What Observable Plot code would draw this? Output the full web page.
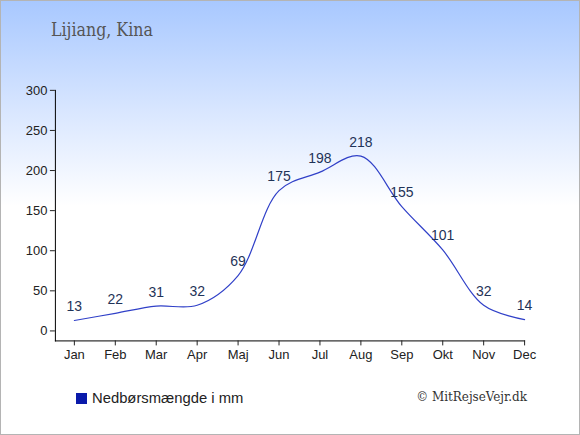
<!DOCTYPE html>
<html><head><meta charset="utf-8">
<script src="https://cdn.jsdelivr.net/npm/d3@7"></script>
<script src="https://cdn.jsdelivr.net/npm/@observablehq/plot@0.6"></script>
<style>
html,body{margin:0;padding:0;}
#wrap{position:relative;width:578px;height:433px;border:1px solid #b4b4b4;
background:linear-gradient(to bottom,#a8c8ff 0px,#dde9ff 120px,#ffffff 205px,#ffffff 433px);overflow:hidden;}
#title{position:absolute;left:50px;top:19px;font-family:"DejaVu Serif Condensed","DejaVu Serif",serif;font-stretch:condensed;font-size:17.6px;color:#555;}
#legend{position:absolute;left:75px;top:389px;font-family:"Liberation Sans",Arial,sans-serif;font-size:14.8px;color:#222;}
#legend span.sw{display:inline-block;width:11px;height:11px;background:#0a1aaa;margin-right:5px;vertical-align:-1px;}
#copy{position:absolute;right:52px;top:388px;font-family:"DejaVu Serif Condensed","DejaVu Serif",serif;font-stretch:condensed;font-size:13.3px;color:#333;}
#chart{position:absolute;left:-1px;top:-1px;}
</style></head>
<body>
<div id="wrap">
<div id="chart"></div>
<div id="title">Lijiang, Kina</div>
<div id="legend"><span class="sw"></span>Nedbørsmængde i mm</div>
<div id="copy">© MitRejseVejr.dk</div>
</div>
<script>
const months = ["Jan","Feb","Mar","Apr","Maj","Jun","Jul","Aug","Sep","Okt","Nov","Dec"];
const rain = [13,22,31,32,69,175,198,218,155,101,32,14];
const yTicks = [0,50,100,150,200,250,300];

const data = months.map((m,i)=>({month:m, value:rain[i]}));

const chart = Plot.plot({
  width:580, height:435,
  marginLeft:55, marginRight:55, marginTop:90, marginBottom:94,
  style:{background:"transparent", fontFamily:"'Liberation Sans',Arial,sans-serif", fontSize:"13px", color:"#222"},
  x:{type:"point", domain:months, padding:0, insetLeft:19, label:null},
  y:{domain:[0,300], insetBottom:10, label:null},
  marks:[
    Plot.frame({anchor:"left", stroke:"#000"}),
    Plot.frame({anchor:"bottom", stroke:"#000"}),
    Plot.axisY({ticks:yTicks, tickSize:5, tickPadding:3, fontSize:13, label:null}),
    Plot.axisX({tickSize:5, tickPadding:4, fontSize:13, label:null}),
    Plot.line(data,{x:"month", y:"value", stroke:"#3040c8", strokeWidth:1.2, curve:"catmull-rom"}),
    Plot.text(data,{x:"month", y:"value", text:d=>String(d.value), dy:-14, fill:"#1f3358", fontSize:14})
  ]
});
document.getElementById("chart").appendChild(chart);
</script>
</body></html>
